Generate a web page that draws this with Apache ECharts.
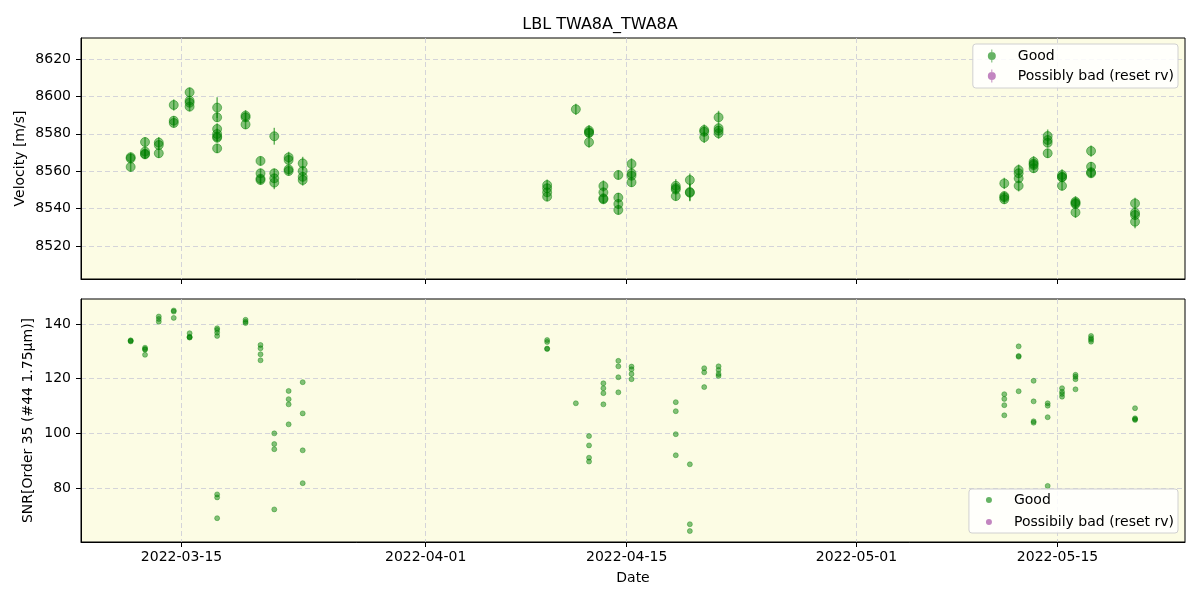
<!DOCTYPE html>
<html><head><meta charset="utf-8">
<script src="https://cdn.jsdelivr.net/npm/echarts@6/dist/echarts.min.js"></script>
<style>html,body{margin:0;padding:0;background:#fff}#c{width:1200px;height:600px}</style>
</head><body><div id="c"></div>
<script>
// ---- data ----
const obsTimes = [
  '2022-03-11T11:00','2022-03-12T11:00','2022-03-13T10:00','2022-03-14T11:00','2022-03-15T13:30',
  '2022-03-17T11:30','2022-03-19T11:00','2022-03-20T12:00','2022-03-21T11:00','2022-03-22T11:00',
  '2022-03-23T10:30',
  '2022-04-09T11:00','2022-04-11T11:00','2022-04-12T09:00','2022-04-13T09:00','2022-04-14T10:00',
  '2022-04-15T08:00','2022-04-18T10:00','2022-04-19T09:30','2022-04-20T09:30','2022-04-21T09:30',
  '2022-05-11T07:00','2022-05-12T07:00','2022-05-13T08:00','2022-05-14T07:30','2022-05-15T07:30',
  '2022-05-16T06:00','2022-05-17T08:00','2022-05-20T09:30'
];
const rvValues = [
  [8567.5, 8566.8, 8562.3],
  [8575.6, 8570.5, 8569.3, 8569.0],
  [8575.3, 8574.0, 8569.6],
  [8595.4, 8587.0, 8585.8],
  [8602.2, 8597.7, 8596.6, 8594.5],
  [8594.0, 8588.8, 8582.6, 8579.9, 8578.5, 8577.9, 8572.2],
  [8589.7, 8588.8, 8585.0],
  [8565.5, 8558.9, 8556.0, 8555.3],
  [8578.7, 8558.9, 8556.2, 8553.9],
  [8567.4, 8566.0, 8561.0, 8560.1],
  [8564.2, 8560.1, 8557.0, 8555.3],
  [8552.6, 8550.9, 8548.7, 8546.4],
  [8593.1],
  [8581.7, 8580.8, 8580.4, 8575.5],
  [8552.1, 8548.7, 8545.5, 8545.0],
  [8558.0, 8545.9, 8542.5, 8539.3],
  [8563.9, 8558.9, 8557.6, 8554.1],
  [8552.2, 8551.0, 8550.2, 8546.7],
  [8555.3, 8548.9, 8548.5],
  [8582.0, 8581.1, 8578.1],
  [8588.8, 8583.0, 8581.7, 8580.3],
  [8553.5, 8546.7, 8546.0, 8545.0],
  [8560.6, 8558.9, 8556.2, 8552.2],
  [8565.1, 8564.0, 8563.3, 8561.6],
  [8578.8, 8576.7, 8575.2, 8569.6],
  [8558.0, 8557.0, 8556.7, 8552.2],
  [8543.7, 8543.0, 8542.5, 8538.0],
  [8570.8, 8562.4, 8559.5, 8558.9],
  [8542.8, 8537.8, 8536.6, 8533.0]
];
const rvErrors = [
  [2.5, 2.5, 2.5],
  [2.5, 2.5, 2.5, 2.5],
  [3.0, 2.5, 2.5],
  [3.0, 2.5, 2.5],
  [2.5, 2.5, 2.5, 2.5],
  [5.5, 2.5, 3.0, 3.0, 2.5, 2.5, 2.5],
  [3.0, 2.5, 2.5],
  [2.5, 2.5, 2.5, 2.5],
  [4.5, 2.5, 2.5, 3.5],
  [3.0, 2.5, 2.5, 2.5],
  [3.5, 2.5, 2.5, 3.0],
  [3.0, 2.5, 2.5, 2.5],
  [3.0],
  [3.0, 2.5, 2.5, 3.0],
  [3.0, 2.5, 2.5, 2.5],
  [2.5, 2.5, 2.5, 2.5],
  [3.0, 2.5, 2.5, 2.5],
  [3.5, 2.5, 2.5, 2.5],
  [3.5, 4.5, 4.5],
  [3.0, 2.5, 3.0],
  [3.5, 2.5, 2.5, 3.0],
  [3.0, 2.5, 2.5, 2.5],
  [3.0, 2.5, 2.5, 3.0],
  [3.0, 2.5, 2.5, 2.5],
  [3.5, 2.5, 2.5, 2.5],
  [3.0, 2.5, 2.5, 2.5],
  [3.0, 2.5, 2.5, 3.0],
  [3.0, 2.5, 2.5, 2.5],
  [3.0, 2.5, 2.5, 3.5]
];
const snrValues = [
  [134.0, 133.8, 133.6],
  [131.3, 130.8, 130.6, 128.7],
  [142.7, 141.8, 140.8],
  [144.9, 144.5, 142.2],
  [136.6, 135.3, 135.1, 135.0],
  [138.4, 137.8, 136.8, 135.6, 77.7, 76.6, 69.0],
  [141.5, 140.8, 140.3],
  [132.3, 131.1, 128.9, 126.7],
  [100.0, 96.1, 94.2, 72.2],
  [115.5, 112.5, 110.6, 103.3],
  [118.7, 107.3, 93.8, 81.8],
  [134.1, 133.4, 131.0, 130.8],
  [111.0],
  [99.0, 95.6, 91.1, 89.7],
  [118.3, 116.5, 114.7, 110.6],
  [126.5, 124.5, 120.5, 115.0],
  [124.4, 123.4, 121.7, 119.8],
  [111.4, 108.1, 99.7, 92.0],
  [88.7, 66.8, 64.3],
  [123.8, 122.3, 116.9],
  [124.5, 123.2, 121.7, 121.0],
  [114.3, 112.6, 110.3, 106.6],
  [131.8, 128.3, 128.0, 115.4],
  [119.2, 111.7, 104.4, 103.9],
  [111.0, 110.1, 105.9, 80.8],
  [116.5, 115.2, 114.4, 113.4],
  [121.4, 120.7, 119.8, 116.1],
  [135.6, 134.8, 134.2, 133.5],
  [109.2, 105.5, 105.2, 104.9]
];
const xTickLabels = ['2022-03-15', '2022-04-01', '2022-04-15', '2022-05-01', '2022-05-15'];
const rvTicks = [8520, 8540, 8560, 8580, 8600, 8620];
const snrTicks = [80, 100, 120, 140];
const xRange = ['2022-03-08T00:00', '2022-05-23T21:00'];
const rvRange = [8502.4, 8631.2];
const snrRange = [60.3, 149.1];
const goodName = 'Good';
const badNameTop = 'Possibly bad (reset rv)';
const badNameBottom = 'Possibily bad (reset rv)';

// ---- build ----
const ts = s => Date.parse(s + (s.length > 10 ? ':00Z' : 'T00:00:00Z'));
const goodRv = [], goodErr = [], goodSnr = [];
obsTimes.forEach((t, i) => {
  const x = ts(t);
  rvValues[i].forEach((v, j) => {
    const e = rvErrors[i][j];
    goodRv.push([x, v]);
    goodErr.push([x, v - e, v + e]);
    goodSnr.push([x, snrValues[i][j]]);
  });
});
const xTicks = xTickLabels.map(ts);
const fmtDate = v => new Date(v).toISOString().slice(0, 10);
const FONT = 'DejaVu Sans';
const FS = 14;
const GREEN = 'rgba(0,128,0,0.6)';
const PURPLE = 'rgba(128,0,128,0.6)';
const gridLine = { show: true, lineStyle: { color: '#c9c9d6', width: 0.8, type: [5, 3] } };
const errIcon = 'path://M4.4,0H5.6V16H4.4Z M10,8A5,5 0 1 1 0,8A5,5 0 1 1 10,8Z';

function xAxis(gridIndex, showLabels) {
  return {
    type: 'value', gridIndex, min: ts(xRange[0]), max: ts(xRange[1]),
    axisLine: { show: true, onZero: false, lineStyle: { color: '#000', width: 1 } },
    axisTick: { show: true, customValues: xTicks, length: 5, lineStyle: { color: '#000' } },
    axisLabel: { show: showLabels, customValues: xTicks, formatter: fmtDate, color: '#000',
      fontFamily: FONT, fontSize: FS, margin: 8 },
    splitLine: gridLine,
    name: showLabels ? 'Date' : '', nameLocation: 'middle', nameGap: 29, nameMoveOverlap: false,
    nameTextStyle: { color: '#000', fontFamily: FONT, fontSize: FS }
  };
}
function yAxis(gridIndex, rng, ticks, name, gap) {
  return {
    type: 'value', gridIndex, min: rng[0], max: rng[1],
    axisLine: { show: true, lineStyle: { color: '#000', width: 1 } },
    axisTick: { show: true, customValues: ticks, length: 5, lineStyle: { color: '#000' } },
    axisLabel: { customValues: ticks, formatter: v => String(v), color: '#000',
      fontFamily: FONT, fontSize: FS, margin: 10 },
    splitLine: gridLine,
    name, nameLocation: 'middle', nameGap: gap, nameMoveOverlap: false,
    nameTextStyle: { color: '#000', fontFamily: FONT, fontSize: FS }
  };
}
const gridStyle = { show: true, backgroundColor: '#fcfce4', borderColor: '#000', borderWidth: 1 };
const legendBase = {
  orient: 'vertical', right: 22, backgroundColor: 'rgba(255,255,255,0.85)',
  borderColor: '#d0d0d0', borderWidth: 1, borderRadius: 3
};

const chart = echarts.init(document.getElementById('c'), null, { renderer: 'canvas' });
chart.setOption({
  animation: false,
  backgroundColor: '#fff',
  title: { text: 'LBL TWA8A_TWA8A', left: 'center', top: 12,
    textStyle: { color: '#000', fontFamily: FONT, fontSize: 16, fontWeight: 'normal' } },
  grid: [
    Object.assign({ left: 81, right: 15, top: 38, height: 241 }, gridStyle),
    Object.assign({ left: 81, right: 15, top: 299, height: 243 }, gridStyle)
  ],
  xAxis: [xAxis(0, false), xAxis(1, true)],
  yAxis: [
    yAxis(0, rvRange, rvTicks, 'Velocity [m/s]', 54),
    yAxis(1, snrRange, snrTicks, 'SNR[Order 35 (#44 1.75μm)]', 46)
  ],
  legend: [
    Object.assign({}, legendBase, { top: 44, itemWidth: 8, itemHeight: 14, itemGap: 6,
      padding: [5, 4, 5, 15],
      textStyle: { color: '#000', fontFamily: FONT, fontSize: FS, padding: [0, 0, 0, 17] },
      data: [
        { name: goodName, icon: errIcon },
        { name: badNameTop, icon: errIcon }] }),
    Object.assign({}, legendBase, { top: 489, itemWidth: 6, itemHeight: 6, itemGap: 8,
      padding: [4, 4, 4, 17],
      textStyle: { color: '#000', fontFamily: FONT, fontSize: FS, padding: [0, 0, 0, 17] },
      data: [
        { name: goodName, icon: 'circle' },
        { name: badNameBottom, icon: 'circle' }] })
  ],
  series: [
    {
      type: 'custom', name: goodName, xAxisIndex: 0, yAxisIndex: 0, data: goodErr,
      encode: { x: 0, y: [1, 2] }, silent: true, z: 2,
      itemStyle: { color: GREEN },
      renderItem: (params, api) => {
        const a = api.coord([api.value(0), api.value(1)]);
        const b = api.coord([api.value(0), api.value(2)]);
        return { type: 'line', shape: { x1: a[0], y1: a[1], x2: b[0], y2: b[1] },
          style: { stroke: GREEN, lineWidth: 1.5 } };
      }
    },
    {
      type: 'scatter', name: goodName, xAxisIndex: 0, yAxisIndex: 0, data: goodRv,
      symbol: 'circle', symbolSize: 9, z: 3,
      itemStyle: { color: GREEN, borderColor: GREEN, borderWidth: 1 }
    },
    {
      type: 'scatter', name: badNameTop, xAxisIndex: 0, yAxisIndex: 0, data: [],
      symbolSize: 9, itemStyle: { color: PURPLE }
    },
    {
      type: 'scatter', name: goodName, xAxisIndex: 1, yAxisIndex: 1, data: goodSnr,
      symbol: 'circle', symbolSize: 5, z: 3,
      itemStyle: { color: GREEN, borderColor: GREEN, borderWidth: 0.8 }
    },
    {
      type: 'scatter', name: badNameBottom, xAxisIndex: 1, yAxisIndex: 1, data: [],
      symbolSize: 5, itemStyle: { color: PURPLE }
    }
  ]
});
</script>
</body></html>
